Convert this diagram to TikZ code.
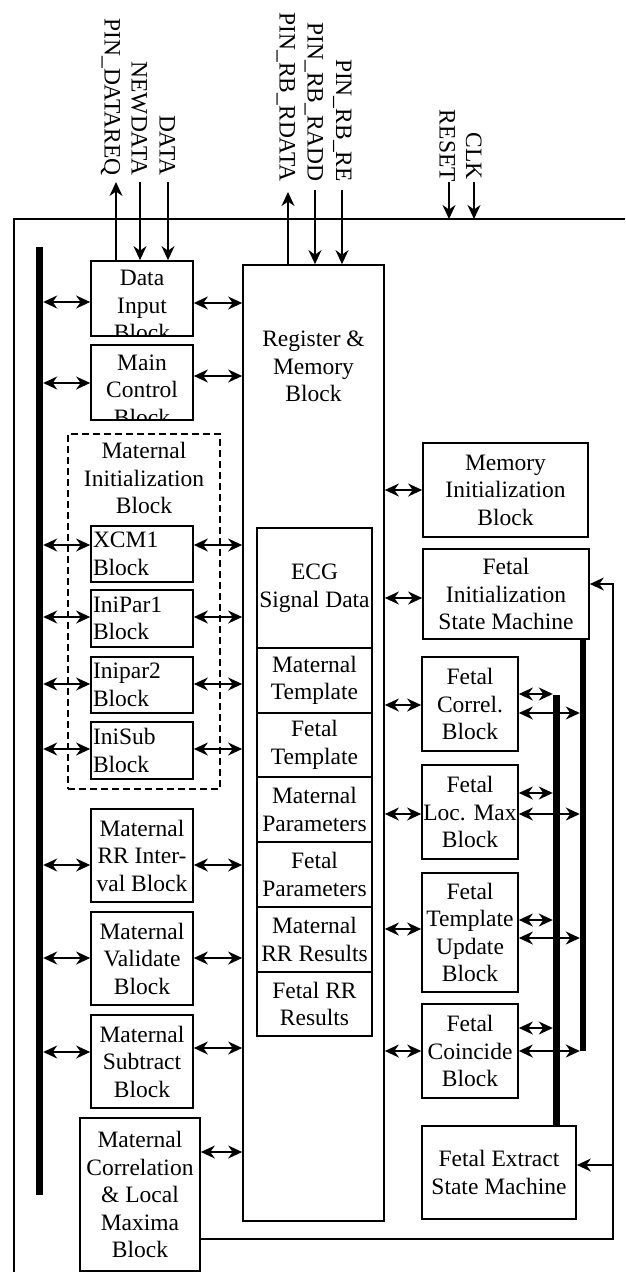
\documentclass[tikz,border=0pt]{standalone}
\usepackage{fontspec}
\setmainfont{Liberation Serif}
\usetikzlibrary{arrows.meta}
\begin{document}
\begin{tikzpicture}[x=1pt,y=-1pt,
  every node/.style={font=\fontsize{23.5}{27.5}\selectfont},
  wire/.style={line width=1.7pt},
  arr/.style={wire,-{Stealth[length=14pt,width=13pt,inset=4.5pt]}},
  darr/.style={wire,{Stealth[length=14pt,width=13pt,inset=4.5pt]}-{Stealth[length=14pt,width=13pt,inset=4.5pt]}},
  blk/.style={draw,line width=1.7pt,rectangle,inner sep=1pt,align=center},
  lblk/.style={blk,align=left,text width=98pt,inner sep=2pt},
  bus/.style={fill=black,inner sep=0pt,minimum width=#1},
  lbl/.style={inner sep=0pt,align=center,anchor=north},
  pinlbl/.style={rotate=-90,anchor=base east,inner sep=0pt}]
\useasboundingbox (0,0) rectangle (625,1272);

% outer frame of the chip
\draw[wire] (625,219) -- (14,219) -- (14,1272);

% left-hand bus
\node[bus=7pt,minimum height=948pt] (busL) at (39.5,721) {};

% input and control blocks
\node[blk,minimum width=102pt,minimum height=75pt] (din) at (142,298.5) {};
\begin{scope}
  \clip (din.north west) rectangle (din.south east);
  \node[lbl] (dinl) at (142,270) {Data\\Input\\Block};
\end{scope}
\node[blk,minimum width=102pt,minimum height=75pt] (mctl) at (142,382.5) {};
\begin{scope}
  \clip (mctl.north west) rectangle (mctl.south east);
  \node[lbl] (mctll) at (142,354.5) {Main\\Control\\Block};
\end{scope}

% maternal initialization group
\node[draw,line width=1.7pt,dash pattern=on 7pt off 4pt,minimum width=152pt,minimum height=355pt,inner sep=0pt] (minit) at (144,611.5) {};
\node[lbl] (minitl) at (144,442) {Maternal\\Initialization\\Block};
\node[lblk,minimum height=56pt] (xcm) at (142,554) {XCM1\\Block};
\node[lblk,minimum height=57pt] (ip1) at (142,618.5) {IniPar1\\Block};
\node[lblk,minimum height=56pt] (ip2) at (142,685) {Inipar2\\Block};
\node[lblk,minimum height=57pt] (isub) at (142,750.5) {IniSub\\Block};

% maternal processing blocks
\node[blk,minimum width=102pt,minimum height=93pt] (mrr) at (142,855.5) {Maternal\\RR Inter-\\val Block};
\node[blk,minimum width=102pt,minimum height=93pt] (mval) at (142,958.5) {Maternal\\Validate\\Block};
\node[blk,minimum width=102pt,minimum height=93pt] (msub) at (142,1061.5) {Maternal\\Subtract\\Block};
\node[blk,minimum width=120pt,minimum height=153pt] (mcorr) at (140,1194.5) {Maternal\\Correlation\\\& Local\\Maxima\\Block};

% register and memory block with its memory areas
\node[blk,minimum width=141pt,minimum height=956pt] (reg) at (313.5,743) {};
\node[lbl] (regl) at (313.5,331) {Register \&\\Memory\\Block};
\node[blk,minimum width=115pt,minimum height=120pt] (ecg) at (314.5,588) {ECG\\Signal Data};
\node[blk,minimum width=115pt,minimum height=65pt] (mt) at (314.5,680.5) {Maternal\\Template};
\node[blk,minimum width=115pt,minimum height=64pt] (ft) at (314.5,745) {Fetal\\Template};
\node[blk,minimum width=115pt,minimum height=65pt] (mp) at (314.5,809.5) {Maternal\\Parameters};
\node[blk,minimum width=115pt,minimum height=65pt] (fp) at (314.5,874.5) {Fetal\\Parameters};
\node[blk,minimum width=115pt,minimum height=65pt] (mrres) at (314.5,939.5) {Maternal\\RR Results};
\node[blk,minimum width=115pt,minimum height=64pt] (frres) at (314.5,1004) {Fetal RR\\Results};

% fetal side
\node[blk,minimum width=165pt,minimum height=94pt] (meminit) at (505.5,490) {Memory\\Initialization\\Block};
\node[blk,minimum width=166pt,minimum height=90pt] (finit) at (506,594) {Fetal\\Initialization\\State Machine};
\node[blk,minimum width=96pt,minimum height=94pt] (fcorr) at (470,704) {Fetal\\Correl.\\Block};
\node[blk,minimum width=96pt,minimum height=94pt] (floc) at (470,812) {Fetal\\Loc. Max\\Block};
\node[blk,minimum width=96pt,minimum height=119pt] (ftu) at (470,932.5) {Fetal\\Template\\Update\\Block};
\node[blk,minimum width=96pt,minimum height=94pt] (fcoin) at (470,1051) {Fetal\\Coincide\\Block};
\node[blk,minimum width=154pt,minimum height=93pt] (fext) at (499,1172.5) {Fetal Extract\\State Machine};

% fetal buses
\node[bus=6pt,minimum height=412pt] (busR) at (583,845) {};
\node[bus=7pt,minimum height=431pt] (busI) at (556.5,910.5) {};

% pin labels
\node[pinlbl] (pdreq) at (104.5,176) {PIN\_DATAREQ};
\node[pinlbl] (pnew) at (131.5,176) {NEWDATA};
\node[pinlbl] (pdata) at (159.5,176) {DATA};
\node[pinlbl] (prdata) at (279.5,182) {PIN\_RB\_RDATA};
\node[pinlbl] (pradd) at (307.5,182) {PIN\_RB\_RADD};
\node[pinlbl] (pre) at (336,182) {PIN\_RB\_RE};
\node[pinlbl] (preset) at (439.5,182) {RESET};
\node[pinlbl] (pclk) at (466,180) {CLK};

% pin connections
\coordinate (tDreq) at (116,182);
\coordinate (tNew) at (140,182);
\coordinate (tData) at (168,182);
\coordinate (tRdata) at (288,192);
\coordinate (tRadd) at (315,190);
\coordinate (tRe) at (342,190);
\coordinate (tReset) at (449,182);
\coordinate (tClk) at (474,182);
\draw[arr] (din.north -| tDreq) -- (tDreq);
\draw[arr] (tNew) -- (din.north -| tNew);
\draw[arr] (tData) -- (din.north -| tData);
\draw[arr] (reg.north -| tRdata) -- (tRdata);
\draw[arr] (tRadd) -- (reg.north -| tRadd);
\draw[arr] (tRe) -- (reg.north -| tRe);
\draw[arr] (tReset) -- (tReset |- 0,219);
\draw[arr] (tClk) -- (tClk |- 0,219);

% left bus to blocks
\draw[darr] (busL.east |- 0,302) -- (din.west |- 0,302);
\draw[darr] (busL.east |- 0,383) -- (mctl.west |- 0,383);
\draw[darr] (busL.east |- 0,545) -- (xcm.west |- 0,545);
\draw[darr] (busL.east |- 0,617) -- (ip1.west |- 0,617);
\draw[darr] (busL.east |- 0,684) -- (ip2.west |- 0,684);
\draw[darr] (busL.east |- 0,749) -- (isub.west |- 0,749);
\draw[darr] (busL.east |- 0,865) -- (mrr.west |- 0,865);
\draw[darr] (busL.east |- 0,958) -- (mval.west |- 0,958);
\draw[darr] (busL.east |- 0,1052) -- (msub.west |- 0,1052);

% blocks to register and memory block
\draw[darr] (din.east |- 0,303) -- (reg.west |- 0,303);
\draw[darr] (mctl.east |- 0,376) -- (reg.west |- 0,376);
\draw[darr] (xcm.east |- 0,545) -- (reg.west |- 0,545);
\draw[darr] (ip1.east |- 0,617) -- (reg.west |- 0,617);
\draw[darr] (ip2.east |- 0,684) -- (reg.west |- 0,684);
\draw[darr] (isub.east |- 0,749) -- (reg.west |- 0,749);
\draw[darr] (mrr.east |- 0,865) -- (reg.west |- 0,865);
\draw[darr] (mval.east |- 0,958) -- (reg.west |- 0,958);
\draw[darr] (msub.east |- 0,1048) -- (reg.west |- 0,1048);
\draw[darr] (mcorr.east |- 0,1152) -- (reg.west |- 0,1152);

% register and memory block to fetal side
\draw[darr] (reg.east |- 0,490) -- (meminit.west |- 0,490);
\draw[darr] (reg.east |- 0,598) -- (finit.west |- 0,598);
\draw[darr] (reg.east |- 0,705) -- (fcorr.west |- 0,705);
\draw[darr] (reg.east |- 0,814) -- (floc.west |- 0,814);
\draw[darr] (reg.east |- 0,929) -- (ftu.west |- 0,929);
\draw[darr] (reg.east |- 0,1051) -- (fcoin.west |- 0,1051);

% fetal blocks to the two buses
\draw[darr] (fcorr.east |- 0,694) -- (busI.west |- 0,694);
\draw[darr] (fcorr.east |- 0,713) -- (busR.west |- 0,713);
\draw[darr] (floc.east |- 0,793) -- (busI.west |- 0,793);
\draw[darr] (floc.east |- 0,814) -- (busR.west |- 0,814);
\draw[darr] (ftu.east |- 0,920) -- (busI.west |- 0,920);
\draw[darr] (ftu.east |- 0,938) -- (busR.west |- 0,938);
\draw[darr] (fcoin.east |- 0,1028) -- (busI.west |- 0,1028);
\draw[darr] (fcoin.east |- 0,1051) -- (busR.west |- 0,1051);

% feedback from the maternal correlation block to the fetal state machines
\coordinate (fbB) at (613,1239);
\coordinate (fbT) at (613,584);
\draw[arr] (mcorr.east |- fbB) -- (fbB) -- (fbT) -- (finit.east |- fbT);
\draw[arr] (fbB |- 0,1165) -- (fext.east |- 0,1165);
\end{tikzpicture}
\end{document}
